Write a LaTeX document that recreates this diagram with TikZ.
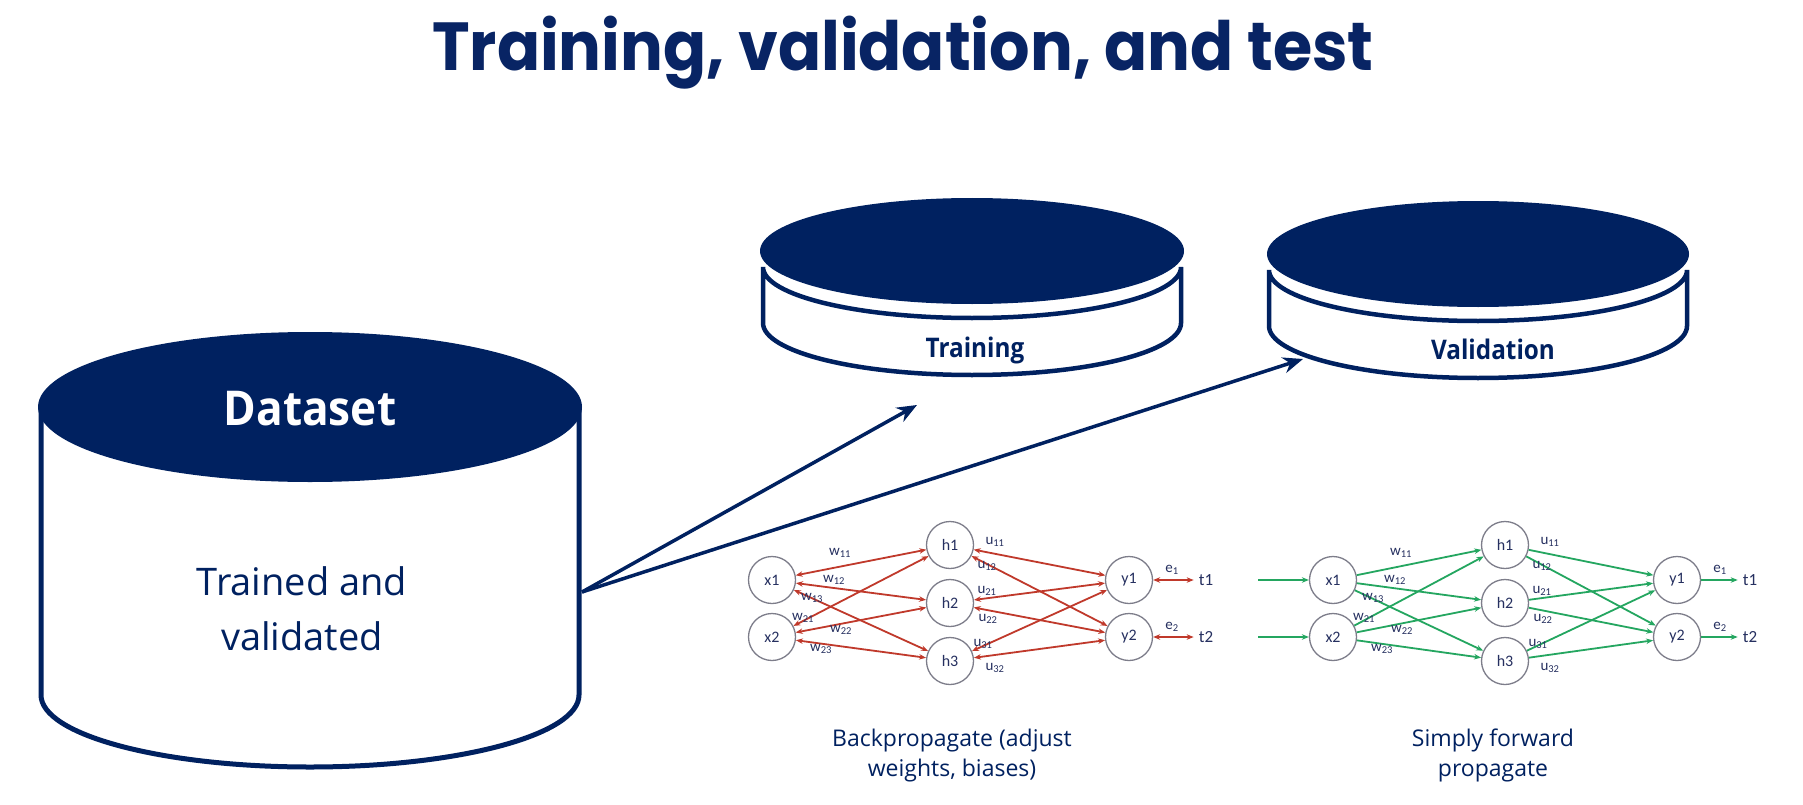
\documentclass[tikz,border=0pt]{standalone}
\usepackage{fontspec}
\setmainfont{Open Sans}
\newfontfamily\titlefont{Poppins}
\newfontfamily\netfont{Carlito}
\usetikzlibrary{arrows.meta}
\definecolor{navy}{RGB}{0,33,96}
\definecolor{titleblue}{RGB}{8,36,100}
\definecolor{bpred}{RGB}{192,57,43}
\definecolor{fwgreen}{RGB}{36,166,96}
\definecolor{circgray}{RGB}{125,125,138}
\definecolor{labelblue}{RGB}{38,48,96}
\newcommand\mynet[6]{%
  \node[neuron] (#1x1) at (#2,580) {x1};
  \node[neuron] (#1x2) at (#2,637) {x2};
  \node[neuron] (#1h1) at (#3,545) {h1};
  \node[neuron] (#1h2) at (#3,603) {h2};
  \node[neuron] (#1h3) at (#3,661) {h3};
  \node[neuron] (#1y1) at (#4,580) {y1};
  \node[neuron] (#1y2) at (#4,637) {y2};
  \node[tlab] (#1t1) at (#5,580) {t1};
  \node[tlab] (#1t2) at (#5,637) {t2};
  \foreach \i in {1,2}{\foreach \j in {1,2,3}{\draw[#6] (#1x\i) -- (#1h\j);}}
  \foreach \j in {1,2,3}{\foreach \k in {1,2}{\draw[#6] (#1h\j) -- (#1y\k);}}
  \draw[#6] (#1y1) -- (#1t1);
  \draw[#6] (#1y2) -- (#1t2);
  \node[wlab] (#1w11) at ({#2+68},553) {w\textsubscript{11}};
  \node[wlab] (#1w12) at ({#2+62},580) {w\textsubscript{12}};
  \node[wlab] (#1w13) at ({#2+40},598) {w\textsubscript{13}};
  \node[wlab] (#1w21) at ({#2+31},618) {w\textsubscript{21}};
  \node[wlab] (#1w22) at ({#2+69},630) {w\textsubscript{22}};
  \node[wlab] (#1w23) at ({#2+49},649) {w\textsubscript{23}};
  \node[wlab] (#1u11) at ({#3+45},542) {u\textsubscript{11}};
  \node[wlab] (#1u12) at ({#3+37},566) {u\textsubscript{12}};
  \node[wlab] (#1u21) at ({#3+37},591) {u\textsubscript{21}};
  \node[wlab] (#1u22) at ({#3+38},619) {u\textsubscript{22}};
  \node[wlab] (#1u31) at ({#3+33},644) {u\textsubscript{31}};
  \node[wlab] (#1u32) at ({#3+45},668) {u\textsubscript{32}};
  \node[wlab] (#1e1) at ({#4+43},570) {e\textsubscript{1}};
  \node[wlab] (#1e2) at ({#4+43},627) {e\textsubscript{2}};
}
\begin{document}
\begin{tikzpicture}[x=1pt,y=-1pt,
  neuron/.style={circle, draw=circgray, line width=1.3pt, minimum size=47pt, inner sep=0pt,
    font=\netfont\fontsize{16}{16}\selectfont, text=labelblue},
  tlab/.style={inner sep=5pt, font=\netfont\fontsize{17}{17}\selectfont, text=labelblue},
  wlab/.style={inner sep=0pt, font=\netfont\fontsize{15}{15}\selectfont, text=labelblue},
  bpedge/.style={bpred, line width=1.8pt, {Stealth[length=7pt,width=5.5pt]}-{Stealth[length=7pt,width=5.5pt]}},
  fwedge/.style={fwgreen, line width=1.8pt, -{Stealth[length=7pt,width=5.5pt]}},
  bigarrow/.style={navy, line width=3.5pt, -{Stealth[length=20pt,width=16pt]}},
  cyl/.style={draw=navy, fill=white, line width=4.5pt},
  lid/.style={fill=navy},
  captext/.style={inner sep=0pt, anchor=base, text=navy, font=\fontsize{23}{23}\selectfont},
  dstext/.style={inner sep=0pt, anchor=base, text=navy, font=\fontsize{38}{38}\selectfont},
  disktext/.style={inner sep=0pt, anchor=base, text=navy, xscale=0.9, font=\bfseries\fontsize{27}{27}\selectfont}
]
\useasboundingbox (0,0) rectangle (1803,805);
\fill[white] (0,0) rectangle (1803,805);

% title
\node[inner sep=0pt, anchor=base, text=titleblue, xscale=0.935, font=\titlefont\bfseries\fontsize{68}{68}\selectfont]
  (title) at (903,71) {Training, validation, and test};

% Dataset cylinder
\draw[cyl, line width=5pt] (41,407) -- (41,695) arc[start angle=180, end angle=360, x radius=269pt, y radius=72pt] -- (579,407);
\fill[lid] (310,407) ellipse[x radius=272pt, y radius=75pt];
\node[inner sep=0pt, anchor=base, text=white, xscale=0.92, font=\bfseries\fontsize{48}{48}\selectfont] (dsname) at (310,425) {Dataset};
\node[dstext] (ds1) at (302,595) {Trained and};
\node[dstext] (ds2) at (302,650) {validated};
\coordinate (dsport) at (582,592);

% Training disk
\draw[cyl] (763,267) -- (763,323) arc[start angle=180, end angle=360, x radius=209pt, y radius=52pt]
  -- (1181,267) arc[start angle=0, end angle=-180, x radius=209pt, y radius=51pt] -- cycle;
\fill[lid] (972,251) ellipse[x radius=212pt, y radius=53pt];
\node[disktext] (trname) at (975,357) {Training};
\coordinate (trin) at (917,405);

% Validation disk
\draw[cyl] (1269,270) -- (1269,326) arc[start angle=180, end angle=360, x radius=209pt, y radius=52pt]
  -- (1687,270) arc[start angle=0, end angle=-180, x radius=209pt, y radius=51pt] -- cycle;
\fill[lid] (1478,254) ellipse[x radius=211pt, y radius=53pt];
\node[disktext] (vaname) at (1493,359) {Validation};
\coordinate (vain) at (1303,359);

% arrows from dataset
\draw[bigarrow] (dsport) -- (trin);
\draw[bigarrow] (dsport) -- (vain);

% networks
\mynet{r}{772}{950}{1129}{1206}{bpedge}
\mynet{g}{1333}{1505}{1677}{1750}{fwedge}
\coordinate (gin1) at (1258,580);
\coordinate (gin2) at (1258,637);
\draw[fwedge] (gin1) -- (gx1);
\draw[fwedge] (gin2) -- (gx2);

% captions
\node[captext] (cap1a) at (952,746) {Backpropagate (adjust};
\node[captext] (cap1b) at (952,776) {weights, biases)};
\node[captext] (cap2a) at (1493,746) {Simply forward};
\node[captext] (cap2b) at (1493,776) {propagate};
\end{tikzpicture}
\end{document}
